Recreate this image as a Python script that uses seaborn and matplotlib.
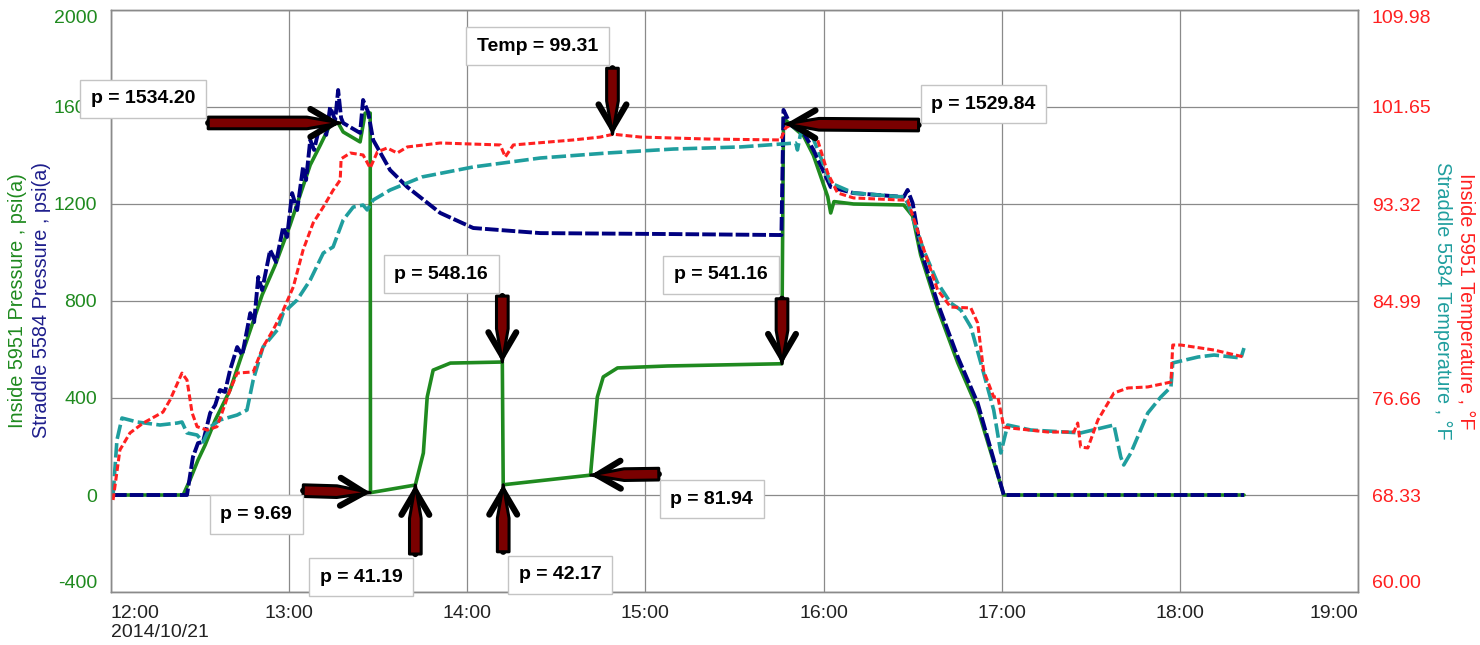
import matplotlib
matplotlib.use('Agg')
import matplotlib.pyplot as plt
import matplotlib.dates as mdates
import numpy as np
import pandas as pd
import seaborn as sns

start = pd.Timestamp('2014-10-21 12:00')

# minutes after 12:00 / readings
green_min = [0.7, 24.3, 26.6, 29.3, 31.7, 35.1, 40.1, 43.5, 46.9, 50.9, 55.3, 60.3, 63.7, 67.1, 70.5,
             73.8, 76.5, 78.2, 83.9, 85.6, 87.3, 87.4, 102.5, 105.2, 106.5, 108.5, 114.3, 131.1, 131.8,
             132.1, 161.5, 163.8, 165.8, 170.6, 187.4, 225.5, 225.9, 226.5, 228.9, 233.3, 236.6, 241.4,
             242.4, 243.5, 250.1, 267.0, 270.0, 272.7, 278.4, 285.2, 291.9, 300.7, 381.6]
green_psi = [0, 0, 62, 144, 206, 309, 433, 557, 680, 825, 948, 1113, 1237, 1361, 1443,
             1526, 1534.2, 1497, 1456, 1575, 1575, 9.69, 41.19, 173, 404, 515, 544, 548.16, 548.16,
             42.17, 81.94, 404, 487, 524, 532, 541.16, 541.16, 1555, 1526, 1480, 1400, 1230,
             1163, 1210, 1200, 1196, 1150, 990, 770, 545, 355, 0, 0]

blue_min = [0.7, 24.3, 25.6, 27.6, 29.3, 31.0, 33.4, 35.1, 36.7, 38.4, 40.1, 42.5, 44.2, 46.9, 48.2,
            49.6, 50.9, 53.6, 55.6, 58.0, 59.3, 61.0, 62.7, 64.7, 65.7, 67.1, 68.4, 70.5, 72.5, 73.8,
            75.5, 76.5, 77.5, 78.2, 83.9, 84.9, 86.6, 88.3, 94.0, 99.8, 110.9, 122.0, 144.6, 189.4,
            225.8, 226.5, 228.9, 233.3, 236.6, 242.4, 250.1, 267.0, 268.3, 270.0, 272.7, 278.4,
            285.2, 291.9, 300.7, 381.6]
blue_psi = [0, 0, 0, 157, 214, 219, 338, 371, 433, 425, 515, 610, 577, 750, 713,
            899, 845, 1010, 961, 1105, 1064, 1245, 1175, 1353, 1299, 1464, 1423, 1534, 1485, 1600,
            1546, 1670, 1555, 1534, 1493, 1629, 1579, 1464, 1340, 1270, 1163, 1101, 1080, 1076,
            1072, 1588, 1526, 1493, 1423, 1270, 1245, 1229, 1258, 1204, 1010, 792,
            569, 379, 0, 0]

red_min = [0.7, 3.0, 6.4, 10.8, 17.5, 19.9, 23.9, 25.6, 27.3, 29.0, 32.4, 35.7, 37.4, 40.1, 42.5,
           47.9, 51.2, 54.6, 58.0, 61.4, 64.7, 68.1, 71.5, 74.8, 77.2, 77.5, 80.6, 84.9, 87.3, 89.7,
           93.0, 96.4, 99.8, 110.9, 131.1, 132.8, 135.5, 155.7, 164.8, 169.2, 178.3, 200.9, 225.5,
           227.2, 228.9, 234.6, 238.0, 241.4, 244.7, 250.1, 266.0, 268.3, 272.7, 278.4, 282.8,
           289.6, 291.9, 293.9, 297.3, 298.7, 300.7, 303.0, 315.5, 324.3, 325.6, 326.6, 329.0,
           332.4, 337.8, 342.5, 349.2, 357.0, 357.6, 360.3, 371.5, 381.6]
red_degF = [67.90, 72.2, 73.66, 74.5, 75.45, 76.5, 78.8, 78.2, 75.4, 74.2, 73.9, 74.2, 75.4, 77.35, 78.8,
            78.9, 81.04, 82.5, 84.2, 86.2, 89.37, 91.7, 93.06, 94.5, 95.38, 97.2, 97.7, 97.53, 96.41, 97.79,
            98.13, 97.70, 98.22, 98.56, 98.39, 97.36, 98.39, 98.82, 99.07, 99.31, 99.07, 98.90, 98.82,
            99.85, 100.10, 99.50, 98.82, 95.98, 94.27, 93.84, 93.66, 93.66, 90.23, 85.94, 84.47,
            84.39, 83.10, 79.0, 76.75, 76.75, 74.17, 74.08, 73.74, 73.74, 74.51, 72.45, 72.37,
            74.77, 77.09, 77.52, 77.61, 78.03, 81.21, 81.21, 80.78, 80.18]

teal_min = [0.7, 2.0, 3.7, 8.8, 16.5, 22.3, 23.9, 25.6, 29.0, 31.0, 33.4, 36.7, 42.5, 45.8, 47.9,
            51.2, 56.0, 58.0, 62.7, 67.1, 71.5, 74.8, 78.2, 81.6, 84.9, 86.3, 88.3, 94.0, 104.7, 122.0,
            144.6, 167.2, 189.4, 212.0, 230.6, 231.2, 232.3, 235.6, 239.0, 242.4, 250.1, 267.0, 268.3,
            273.7, 278.4, 282.8, 286.2, 289.6, 293.9, 297.3, 299.7, 302.0, 309.8, 326.6, 337.8, 340.1,
            341.1, 343.5, 349.2, 353.6, 357.0, 357.6, 366.1, 371.5, 380.6, 381.6]
teal_degF = [68.33, 73.05, 74.94, 74.60, 74.34, 74.51, 74.60, 73.66, 73.48, 72.88, 74.17, 74.77, 75.20, 75.63, 78.21,
             81.04, 82.50, 83.96, 85.08, 86.79, 89.11, 89.63, 91.95, 93.06, 93.23, 92.81, 93.66, 94.52, 95.64, 96.50,
             97.27, 97.70, 98.04, 98.22, 98.56, 97.96, 99.42, 99.50, 97.36, 95.12, 94.27, 93.92, 93.41,
             89.37, 86.54, 84.82, 84.22, 82.76, 78.81, 75.63, 71.94, 74.34, 73.91, 73.66, 74.34, 71.59,
             70.91, 71.94, 75.37, 76.75, 77.61, 79.67, 80.18, 80.35, 80.10, 80.95]

psi_ticks = [-400, 0, 400, 800, 1200, 1600, 2000]
degF_ticks = [60.00, 68.33, 76.66, 84.99, 93.32, 101.65, 109.98]
hour_labels = ['12:00\n2014/10/21', '13:00', '14:00', '15:00', '16:00', '17:00', '18:00', '19:00']

# callouts: text, point (minutes, value), axis the value belongs to
note_text = ['p = 1534.20', 'Temp = 99.31', 'p = 1529.84', 'p = 548.16', 'p = 541.16',
             'p = 9.69', 'p = 41.19', 'p = 42.17', 'p = 81.94']
note_min = [77.2, 168.9, 227.2, 131.8, 226.0, 87.3, 102.5, 132.1, 161.6]
note_val = [1534.20, 99.31, 1529.84, 548.16, 541.16, 9.69, 41.19, 42.17, 81.94]
note_axis = ['p', 'T', 'p', 'p', 'p', 'p', 'p', 'p', 'p']
# layout offsets in pixels (arrow tail, box centre) relative to the point
tail_px = [(-132, 0), (0, 66), (133, -1), (0, 66), (0, 65), (-67, 2), (0, -69), (0, -67), (68, 1)]
box_px = [(-197, 24), (-75, 88), (198, 20), (-61, 88), (-61, 89), (-114, -22), (-54, -92), (57, -90), (121, -24)]

GREEN = '#1f8a1f'
BLUE = '#000080'
RED = '#ff2020'
TEAL = '#1f9e9e'

sns.set_style('whitegrid')
plt.rcParams['font.family'] = ['Liberation Sans', 'DejaVu Sans']


def to_time(mins):
    return start + pd.to_timedelta(mins, unit='m')


fig = plt.figure(figsize=(14.8, 6.45), dpi=100)
ax = fig.add_axes([111 / 1480, 1 - 592 / 645, (1358 - 111) / 1480, (592 - 10) / 645])
ax2 = ax.twinx()

sns.lineplot(x=to_time(green_min), y=green_psi, ax=ax, color=GREEN, lw=2.6,
             sort=False, estimator=None)
sns.lineplot(x=to_time(blue_min), y=blue_psi, ax=ax, color=BLUE, lw=2.8,
             sort=False, estimator=None, linestyle=(0, (3.5, 0.8)))
sns.lineplot(x=to_time(teal_min), y=teal_degF, ax=ax2, color=TEAL, lw=2.6,
             sort=False, estimator=None, linestyle=(0, (4, 1.2)))
sns.lineplot(x=to_time(red_min), y=red_degF, ax=ax2, color=RED, lw=2.2,
             sort=False, estimator=None, linestyle=(0, (2.2, 1)))

ax.set_ylim(-400, 2000)
ax2.set_ylim(60, 109.98)
ax.set_xlim(start, start + pd.Timedelta(hours=7))

hours = [start + pd.Timedelta(hours=h) for h in range(8)]
ax.set_xticks(hours)
ax.set_xticklabels(hour_labels)
ax.set_yticks(psi_ticks)
ax.set_yticklabels([str(v) for v in psi_ticks])
ax2.set_yticks(degF_ticks)
ax2.set_yticklabels(['%.2f' % v for v in degF_ticks])

ax.tick_params(axis='x', labelsize=14, pad=9, colors='#222222', length=0)
ax.tick_params(axis='y', labelsize=14, pad=10, labelcolor=GREEN, length=0)
ax2.tick_params(axis='y', labelsize=14, pad=10, labelcolor=RED, length=0)

xl = ax.get_xticklabels()
xl[0].set_ha('left')
xl[-1].set_ha('right')
yl = ax.get_yticklabels()
yl[0].set_va('bottom')
yl[-1].set_va('top')
yr = ax2.get_yticklabels()
yr[0].set_va('bottom')
yr[-1].set_va('top')

ax.grid(True, color='#8a8a8a', lw=0.9)
ax2.grid(False)
for a in (ax, ax2):
    for s in a.spines.values():
        s.set_color('#8a8a8a')
        s.set_linewidth(1.0)
ax.set_xlabel('')
ax.set_ylabel('')
ax2.set_ylabel('')

fig.text(18 / 1480, 1 - 301 / 645, 'Inside 5951 Pressure , psi(a)', rotation=90,
         ha='center', va='center', color=GREEN, fontsize=14.3)
fig.text(42 / 1480, 1 - 300 / 645, 'Straddle 5584 Pressure , psi(a)', rotation=90,
         ha='center', va='center', color='#1e1e8c', fontsize=14.3)
fig.text(1443 / 1480, 1 - 301 / 645, 'Straddle 5584 Temperature , °F', rotation=270,
         ha='center', va='center', color=TEAL, fontsize=14.3)
fig.text(1466 / 1480, 1 - 301 / 645, 'Inside 5951 Temperature , °F', rotation=270,
         ha='center', va='center', color=RED, fontsize=14.3)

px2pt = 72 / fig.dpi
head_kw = dict(arrowstyle='->,head_length=0.85,head_width=0.5', mutation_scale=20,
               color='black', lw=4.5, shrinkA=0, shrinkB=0, capstyle='round', joinstyle='round')
shaft_kw = dict(arrowstyle='simple,head_length=1.2,head_width=0.42,tail_width=0.42',
                mutation_scale=20, fc='#7a0000', ec='black', lw=2.2, shrinkA=0, shrinkB=0,
                joinstyle='round')
for text, m, v, which, tp, bp in zip(note_text, note_min, note_val, note_axis, tail_px, box_px):
    trans = ax.transData if which == 'p' else ax2.transData
    pt = (mdates.date2num(to_time([m])[0]), v)
    tail = (tp[0] * px2pt, tp[1] * px2pt)
    ax2.annotate('', xy=pt, xycoords=trans, xytext=tail, textcoords='offset points',
                 arrowprops=head_kw, annotation_clip=False, zorder=5)
    ax2.annotate('', xy=pt, xycoords=trans, xytext=tail, textcoords='offset points',
                 arrowprops=shaft_kw, annotation_clip=False, zorder=5.5)
    ax2.annotate(text, xy=pt, xycoords=trans,
                 xytext=(bp[0] * px2pt, bp[1] * px2pt), textcoords='offset points',
                 ha='center', va='center', fontsize=14, fontweight='bold', color='black',
                 bbox=dict(boxstyle='square,pad=0.55', fc='white', ec='#c4c4c4', lw=1),
                 annotation_clip=False, zorder=6)

fig.savefig('out.png', dpi=100)
